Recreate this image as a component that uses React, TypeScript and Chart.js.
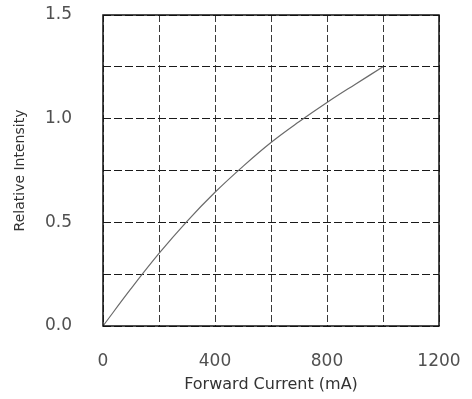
import React, { useEffect, useRef } from "react";
import { Chart, registerables } from "chart.js";

Chart.register(...registerables);

const currentMA = [0, 100, 200, 300, 400, 500, 600, 700, 800, 900, 1000];
const relativeIntensity = [0, 0.18, 0.35, 0.505, 0.645, 0.77, 0.885, 0.985, 1.078, 1.165, 1.25];
const xTickLabels = ["0", "400", "800", "1200"];
const yTickLabels = ["0.0", "0.5", "1.0", "1.5"];

const framePlugin = {
  id: "frame",
  afterDraw(chart: any) {
    const { ctx, chartArea } = chart;
    ctx.save();
    ctx.strokeStyle = "#111";
    ctx.lineWidth = 1.5;
    ctx.setLineDash([]);
    ctx.strokeRect(chartArea.left, chartArea.top, chartArea.right - chartArea.left, chartArea.bottom - chartArea.top);
    ctx.restore();
  },
};

export default function App() {
  const ref = useRef<HTMLCanvasElement>(null);
  useEffect(() => {
    document.body.style.margin = "0";
    const chart = new Chart(ref.current!, {
      type: "scatter",
      data: {
        datasets: [
          {
            data: currentMA.map((x, i) => ({ x, y: relativeIntensity[i] })),
            showLine: true,
            borderColor: "#6a6a6a",
            borderWidth: 1.2,
            pointRadius: 0,
            tension: 0.4,
          },
        ],
      },
      options: {
        responsive: false,
        animation: false,
        layout: { padding: { top: 15, right: 33, left: 0, bottom: 0 } },
        plugins: { legend: { display: false }, tooltip: { enabled: false } },
        scales: {
          x: {
            type: "linear",
            min: 0,
            max: 1200,
            afterFit: (s: any) => {
              s.height = 73;
              s.paddingLeft = 0;
              s.paddingRight = 0;
            },
            ticks: {
              stepSize: 200,
              padding: 25,
              color: "#505050",
              font: { family: "DejaVu Sans", size: 17 },
              maxRotation: 0,
              autoSkip: false,
              callback: (v: any) => (Number(v) % 400 === 0 ? xTickLabels[Number(v) / 400] : ""),
            },
            grid: { color: "#3a3a3a", lineWidth: 1, drawTicks: false },
            border: { display: false, dash: [7, 3] },
            title: {
              display: true,
              text: "Forward Current (mA)",
              color: "#333",
              font: { family: "DejaVu Sans", size: 16 },
              padding: { top: 0, bottom: 5 },
            },
          },
          y: {
            type: "linear",
            min: 0,
            max: 1.5,
            afterFit: (s: any) => {
              s.width = 103;
              s.paddingTop = 0;
              s.paddingBottom = 0;
            },
            ticks: {
              stepSize: 0.25,
              padding: 31,
              color: "#505050",
              font: { family: "DejaVu Sans", size: 17 },
              autoSkip: false,
              callback: (v: any) => {
                const k = Math.round(Number(v) * 2);
                return Math.abs(Number(v) * 2 - k) < 1e-6 ? yTickLabels[k] : "";
              },
            },
            grid: { color: "#1a1a1a", lineWidth: 1, drawTicks: false },
            border: { display: false, dash: [8, 3] },
            title: {
              display: true,
              text: "Relative Intensity",
              color: "#333",
              font: { family: "DejaVu Sans", size: 14 },
              padding: { top: 12, bottom: 0 },
            },
          },
        },
      },
      plugins: [framePlugin],
    } as any);
    return () => chart.destroy();
  }, []);
  return <canvas ref={ref} width={472} height={399} style={{ display: "block" }} />;
}
